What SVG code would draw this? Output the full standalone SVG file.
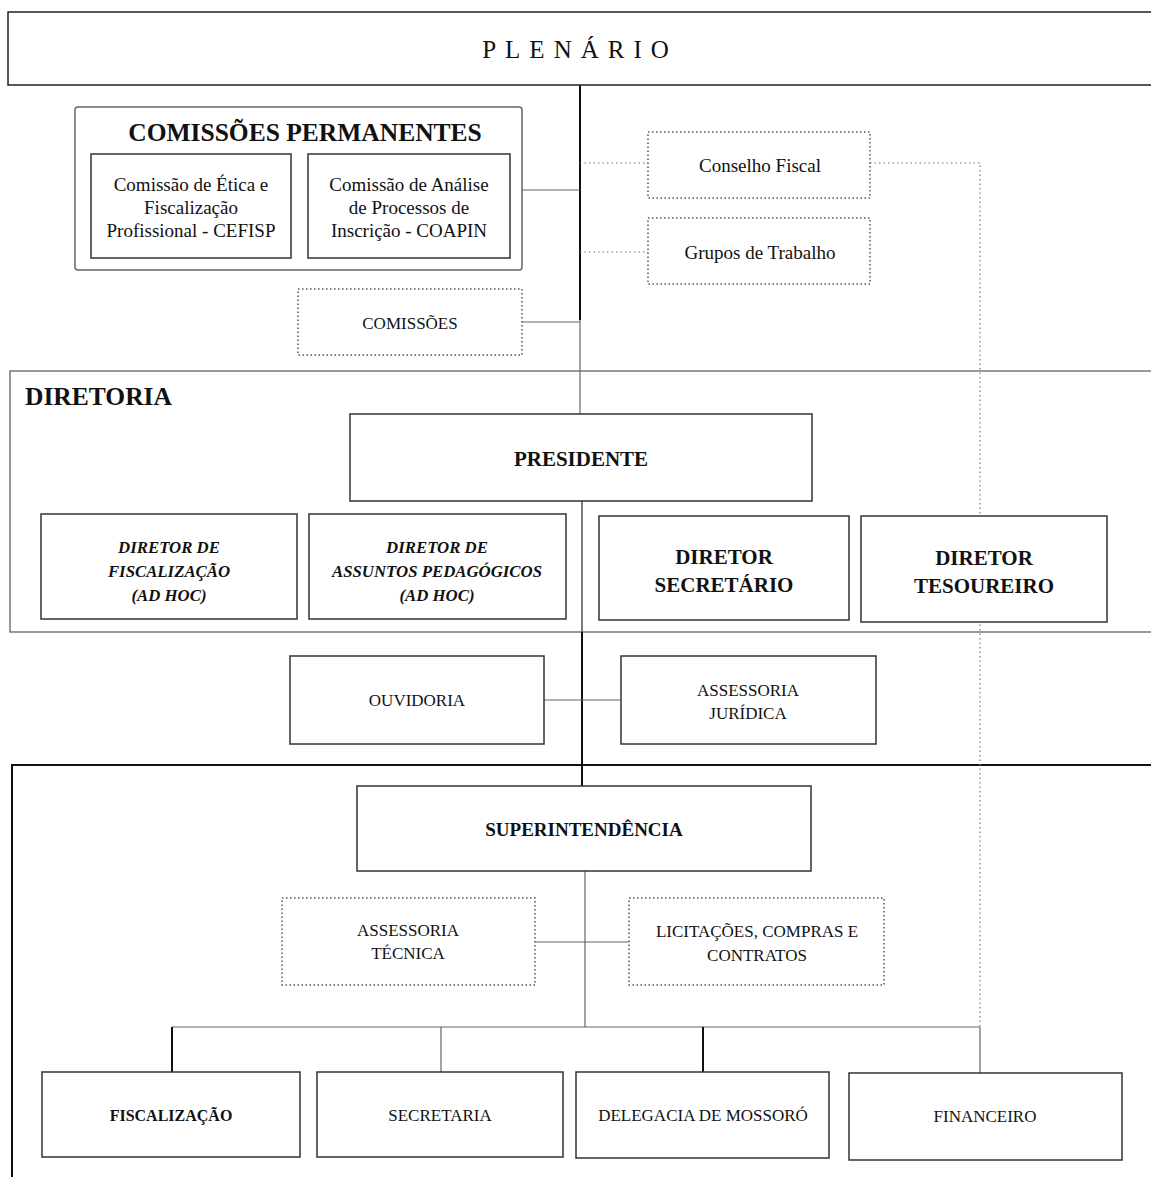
<svg xmlns="http://www.w3.org/2000/svg" width="1151" height="1177" viewBox="0 0 1151 1177">
<style>
  text { font-family: "Liberation Serif", "DejaVu Serif", serif; fill: #111; text-anchor: middle; }
  .box { fill: #fff; stroke: #333; stroke-width: 1.5; }
  .dbox { fill: #fff; stroke: #555; stroke-width: 1.5; stroke-dasharray: 1.5 2.5; }
  .frame { fill: none; stroke: #555; stroke-width: 1.2; }
  .main { stroke: #111; stroke-width: 2; fill: none; }
  .thin { stroke: #666; stroke-width: 1.2; fill: none; }
  .dot { stroke: #777; stroke-width: 1.2; fill: none; stroke-dasharray: 1.5 3; }
  .t15 { font-size: 19px; }
  .caps { font-size: 17px; }
  .ital { font-size: 16.8px; font-style: italic; font-weight: bold; }
  .big { font-size: 21px; font-weight: bold; }
</style>

<g id="frames">
  <rect class="frame" x="10" y="371" width="1160" height="261"/>
  <path d="M12 1190 V765 H1160" stroke="#111" stroke-width="2" fill="none"/>
</g>

<g id="connectors">
  <line class="main" x1="580" y1="85" x2="580" y2="320"/>
  <line class="thin" x1="580" y1="320" x2="580" y2="414"/>
  <line class="thin" x1="522" y1="190" x2="580" y2="190"/>
  <line class="thin" x1="522" y1="322" x2="580" y2="322"/>
  <line class="dot" x1="580" y1="163" x2="648" y2="163"/>
  <line class="dot" x1="580" y1="252" x2="648" y2="252"/>
  <polyline class="dot" points="870,163 980,163 980,1027"/>
  <line x1="582" y1="501" x2="582" y2="632" stroke="#444" stroke-width="1.4"/>
  <line class="main" x1="582" y1="632" x2="582" y2="786"/>
  <line class="thin" x1="544" y1="700" x2="621" y2="700"/>
  <line class="thin" x1="585" y1="871" x2="585" y2="1027"/>
  <line class="thin" x1="535" y1="942" x2="629" y2="942"/>
  <line class="thin" x1="172" y1="1027" x2="980" y2="1027"/>
  <line class="main" x1="172" y1="1027" x2="172" y2="1072"/>
  <line class="thin" x1="441" y1="1027" x2="441" y2="1072"/>
  <line class="main" x1="703" y1="1027" x2="703" y2="1072"/>
  <line class="thin" x1="980" y1="1027" x2="980" y2="1073"/>
</g>

<g id="plenario">
  <rect x="8" y="12" width="1160" height="73" fill="#fff" stroke="#222" stroke-width="1.5"/>
  <text x="580" y="58" style="font-size:25px; letter-spacing:9px;">PLENÁRIO</text>
</g>

<g id="comissoes-permanentes">
  <rect x="75" y="107" width="447" height="163" rx="3" fill="#fff" stroke="#666" stroke-width="1.5"/>
  <text x="305" y="141" style="font-size:25.5px; font-weight:bold;">COMISSÕES PERMANENTES</text>
</g>

<g id="cefisp">
  <rect class="box" x="91" y="154" width="200" height="104"/>
  <text class="t15" x="191" y="191">Comissão de Ética e</text>
  <text class="t15" x="191" y="214">Fiscalização</text>
  <text class="t15" x="191" y="237">Profissional - CEFISP</text>
</g>

<g id="coapin">
  <rect class="box" x="308" y="154" width="202" height="104"/>
  <text class="t15" x="409" y="191">Comissão de Análise</text>
  <text class="t15" x="409" y="214">de Processos de</text>
  <text class="t15" x="409" y="237">Inscrição - COAPIN</text>
</g>

<g id="comissoes">
  <rect class="dbox" x="298" y="289" width="224" height="66"/>
  <text class="caps" x="410" y="329">COMISSÕES</text>
</g>

<g id="conselho-fiscal">
  <rect class="dbox" x="648" y="132" width="222" height="66"/>
  <text class="t15" x="760" y="172">Conselho Fiscal</text>
</g>

<g id="grupos-trabalho">
  <rect class="dbox" x="648" y="218" width="222" height="66"/>
  <text class="t15" x="760" y="259">Grupos de Trabalho</text>
</g>

<g id="diretoria-label">
  <text x="25" y="405" style="font-size:25.5px; font-weight:bold; text-anchor:start;">DIRETORIA</text>
</g>

<g id="presidente">
  <rect class="box" x="350" y="414" width="462" height="87"/>
  <text x="581" y="466" style="font-size:21px; font-weight:bold;">PRESIDENTE</text>
</g>

<g id="diretor-fiscalizacao">
  <rect class="box" x="41" y="514" width="256" height="105"/>
  <text class="ital" x="169" y="553">DIRETOR DE</text>
  <text class="ital" x="169" y="577">FISCALIZAÇÃO</text>
  <text class="ital" x="169" y="601">(AD HOC)</text>
</g>

<g id="diretor-pedagogicos">
  <rect class="box" x="309" y="514" width="257" height="105"/>
  <text class="ital" x="437" y="553">DIRETOR DE</text>
  <text class="ital" x="437" y="577">ASSUNTOS PEDAGÓGICOS</text>
  <text class="ital" x="437" y="601">(AD HOC)</text>
</g>

<g id="diretor-secretario">
  <rect class="box" x="599" y="516" width="250" height="104"/>
  <text class="big" x="724" y="564">DIRETOR</text>
  <text class="big" x="724" y="592">SECRETÁRIO</text>
</g>

<g id="diretor-tesoureiro">
  <rect class="box" x="861" y="516" width="246" height="106"/>
  <text class="big" x="984" y="565">DIRETOR</text>
  <text class="big" x="984" y="593">TESOUREIRO</text>
</g>

<g id="ouvidoria">
  <rect class="box" x="290" y="656" width="254" height="88"/>
  <text class="caps" x="417" y="706">OUVIDORIA</text>
</g>

<g id="assessoria-juridica">
  <rect class="box" x="621" y="656" width="255" height="88"/>
  <text class="caps" x="748" y="696">ASSESSORIA</text>
  <text class="caps" x="748" y="719">JURÍDICA</text>
</g>

<g id="superintendencia">
  <rect class="box" x="357" y="786" width="454" height="85"/>
  <text x="584" y="836" style="font-size:19px; font-weight:bold;">SUPERINTENDÊNCIA</text>
</g>

<g id="assessoria-tecnica">
  <rect class="dbox" x="282" y="898" width="253" height="87"/>
  <text class="caps" x="408" y="936">ASSESSORIA</text>
  <text class="caps" x="408" y="959">TÉCNICA</text>
</g>

<g id="licitacoes">
  <rect class="dbox" x="629" y="898" width="255" height="87"/>
  <text class="caps" x="757" y="937">LICITAÇÕES, COMPRAS E</text>
  <text class="caps" x="757" y="961">CONTRATOS</text>
</g>

<g id="fiscalizacao">
  <rect class="box" x="42" y="1072" width="258" height="85"/>
  <text x="171" y="1121" style="font-size:16px; font-weight:bold;">FISCALIZAÇÃO</text>
</g>

<g id="secretaria">
  <rect class="box" x="317" y="1072" width="246" height="85"/>
  <text class="caps" x="440" y="1121">SECRETARIA</text>
</g>

<g id="delegacia-mossoro">
  <rect class="box" x="576" y="1072" width="253" height="86"/>
  <text class="caps" x="703" y="1121">DELEGACIA DE MOSSORÓ</text>
</g>

<g id="financeiro">
  <rect class="box" x="849" y="1073" width="273" height="87"/>
  <text class="caps" x="985" y="1122">FINANCEIRO</text>
</g>
</svg>
